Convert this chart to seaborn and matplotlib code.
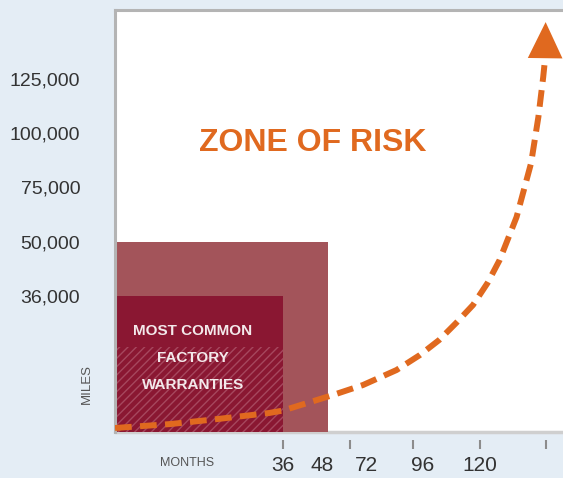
import matplotlib
matplotlib.use("Agg")
import matplotlib.pyplot as plt
import matplotlib.transforms as mtransforms
import numpy as np
import seaborn as sns
from matplotlib.patches import Rectangle

# axis labels
month_ticks = [36, 48, 72, 96, 120]
month_marks = [36, 62, 92, 120, 147]
mile_ticks = [36000, 50000, 75000, 100000, 125000]
mile_labels = ["36,000", "50,000", "75,000", "100,000", "125,000"]

# warranty boxes (months, miles)
warranty_months = [48, 36]
warranty_miles = [50000, 36000]
hatch_miles = 22500

# cost-of-risk curve
curve_months = [0, 12, 22, 33, 36, 51, 70, 85, 95, 103, 110, 117, 123, 128, 135, 141, 144,
                146, 146.8]
curve_miles = [1060, 2120, 3440, 5030, 5690, 9790, 12440, 16410, 20380, 24350, 28850,
               33620, 39370, 45330, 61360, 86110, 107400, 125930, 134720]
arrow_tip = (147, 151400)

# the infographic axis is not linear: knots of the display scale
x_knots = [0, 36, 48, 72, 96, 120, 170]
x_pos = [0, 168, 213, 251, 307, 365, 486]
y_knots = [0, 36000, 50000, 75000, 100000, 125000, 175000]
y_pos = [0, 136, 190, 245, 299, 353, 461]

bg = "#e4edf5"
orange = "#e0691f"
rose = "#a3545a"
crimson = "#8a1732"

sns.set_style("white")
plt.rcParams["font.family"] = ["Liberation Sans", "DejaVu Sans"]
plt.rcParams["hatch.linewidth"] = 1.0

fig = plt.figure(figsize=(5.63, 4.78), dpi=100, facecolor=bg)
ax = fig.add_axes([115 / 563, 46 / 478, 450 / 563, 422 / 478])
ax.set_facecolor("white")

ax.set_xscale("function", functions=(lambda m: np.interp(m, x_knots, x_pos),
                                     lambda p: np.interp(p, x_pos, x_knots)))
ax.set_yscale("function", functions=(lambda v: np.interp(v, y_knots, y_pos),
                                     lambda p: np.interp(p, y_pos, y_knots)))

# warranty boxes
ax.bar([0, 0], warranty_miles, width=warranty_months, align="edge",
       color=[rose, crimson], linewidth=0, zorder=2)
ax.add_patch(Rectangle((0, 0), warranty_months[1], hatch_miles, facecolor="none",
                       edgecolor="#a6475e", hatch="////", linewidth=0, zorder=2.5))

# dashed curve + arrow head
sns.lineplot(x=curve_months, y=curve_miles, ax=ax, color=orange, linewidth=4.3,
             linestyle=(0, (2.8, 1.4)), sort=False, zorder=3)
ax.annotate("", xy=arrow_tip, xytext=(curve_months[-1], curve_miles[-1]),
            arrowprops=dict(arrowstyle="-|>,head_length=1.0,head_width=0.48",
                            mutation_scale=26, color=orange, lw=0,
                            shrinkA=0, shrinkB=0), zorder=4)

ax.set_xlim(0, 155)
ax.set_ylim(0, 157000)

ax.text(0.439, 0.686, "ZONE OF RISK", transform=ax.transAxes, ha="center", va="center",
        color=orange, fontsize=23, fontweight="bold", zorder=5)
ax.text(0.173, 0.176, "MOST COMMON\nFACTORY\nWARRANTIES", transform=ax.transAxes,
        ha="center", va="center", color="#f3e9eb", fontsize=11, fontweight="bold",
        linespacing=2.2, zorder=5)

# frame
for side in ["right", "bottom"]:
    ax.spines[side].set_visible(False)
for side in ["left", "top"]:
    ax.spines[side].set_color("#b4b4b4")
    ax.spines[side].set_linewidth(2.2)
ax.spines["bottom"].set_position(("outward", 6))
ax.axhline(0, color="#cfcfcf", lw=2.5, clip_on=False, zorder=1)

ax.set_yticks(mile_ticks)
ax.set_yticklabels(mile_labels)
ax.tick_params(axis="y", length=0, pad=25, labelsize=14, labelcolor="#333333")

ax.xaxis.remove_overlapping_locs = False
ax.set_xticks(month_ticks)
ax.set_xticklabels([str(m) for m in month_ticks])
ax.set_xticks(month_marks, minor=True)
ax.tick_params(axis="x", which="major", bottom=True, length=0, pad=11.5, labelsize=15,
               labelcolor="#333333")
ax.tick_params(axis="x", which="minor", bottom=True, length=6.5, width=1.5,
               color="#8c8c8c", direction="out")
ax.set_xlabel("")
ax.set_ylabel("")

fig.text(187 / 563, 15 / 478, "MONTHS", ha="center", va="center", fontsize=9, color="#555555")
fig.text(87 / 563, 94 / 478, "MILES", ha="center", va="center", rotation=90,
         fontsize=9.5, color="#555555")

# ticks exist for real only after a draw
fig.canvas.draw()
ax.xaxis.get_minor_ticks()[1].tick1line.set_color("#222222")
# the "48" sits a little left of its place in the original
lbl48 = ax.xaxis.get_major_ticks()[1].label1
lbl48.set_transform(lbl48.get_transform()
                    + mtransforms.ScaledTranslation(-6 / 100, 0, fig.dpi_scale_trans))

plt.savefig("out.png", dpi=100, facecolor=bg)
plt.close()
